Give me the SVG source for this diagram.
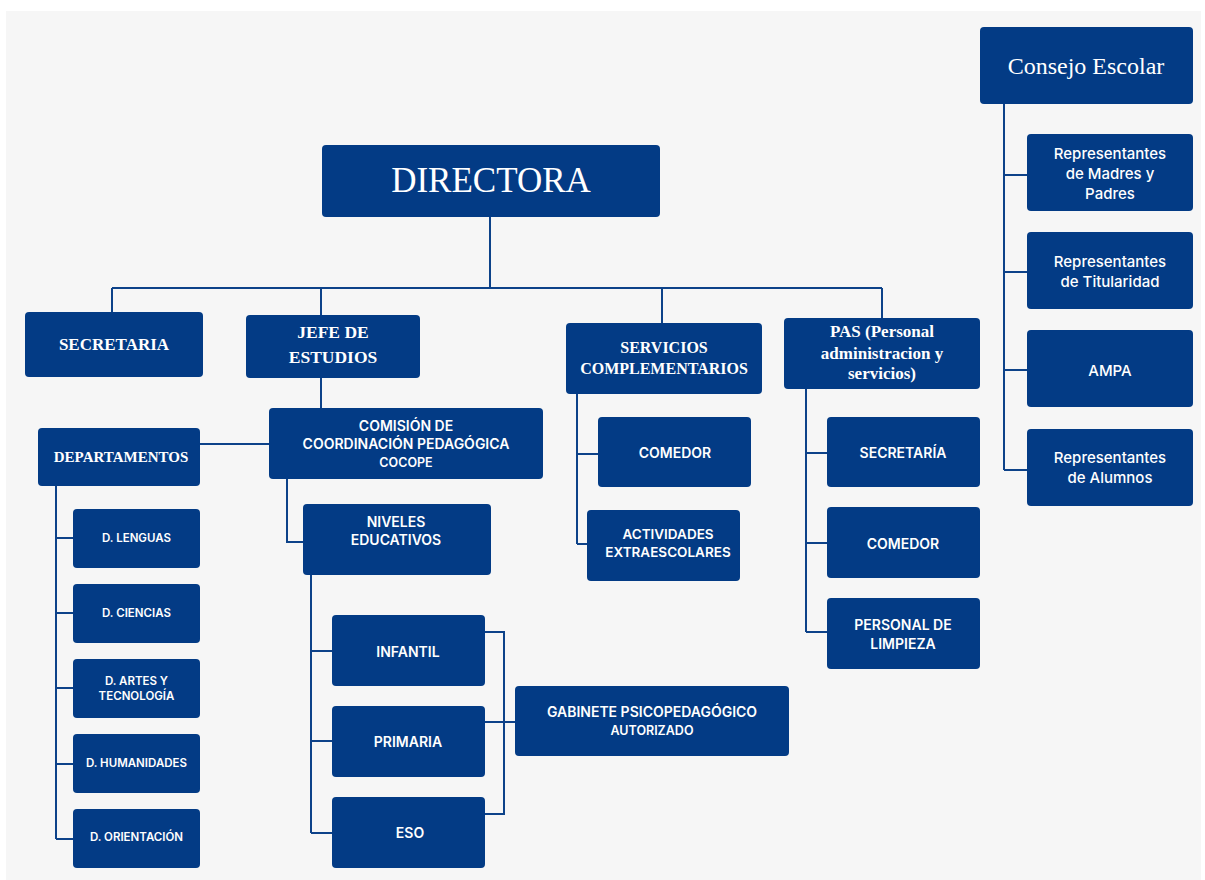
<svg xmlns="http://www.w3.org/2000/svg" width="1205" height="880" viewBox="0 0 1205 880">
<style>
.box{fill:#033b85}
.ln{stroke:#0d4289;stroke-width:2;fill:none}
.serif{font-family:"Liberation Serif","Times New Roman",serif;fill:#ffffff;text-anchor:middle;dominant-baseline:central}
.sb{font-weight:bold}
.sans{font-family:Inter,"Liberation Sans",Arial,sans-serif;fill:#ffffff;text-anchor:middle;dominant-baseline:central;font-weight:600}
.rep{font-weight:500;font-size:15px}
.dep{font-size:11.5px}
</style>
<rect x="0" y="0" width="1205" height="880" fill="#ffffff"/>
<rect x="6" y="11" width="1195" height="869" fill="#f6f6f6"/>

<g id="connectors">
  <path class="ln" d="M490 217 V288 M112 288 H882 M112 288 V312 M321 288 V315 M662 288 V323 M882 288 V318"/>
  <path class="ln" d="M321 378 V408"/>
  <path class="ln" d="M200 444 H269"/>
  <path class="ln" d="M56 486 V839 M56 538 H73 M56 613 H73 M56 688 H73 M56 764 H73 M56 839 H73"/>
  <path class="ln" d="M287 479 V542 H303"/>
  <path class="ln" d="M311 575 V833 M311 651 H332 M311 741 H332 M311 833 H332"/>
  <path class="ln" d="M485 632 H504 V814 H485 M485 722 H515"/>
  <path class="ln" d="M577 394 V544 M577 454 H598 M577 544 H587"/>
  <path class="ln" d="M806 389 V632 M806 453 H827 M806 543 H827 M806 632 H827"/>
  <path class="ln" d="M1004 104 V470 M1004 175 H1027 M1004 272 H1027 M1004 370 H1027 M1004 470 H1027"/>
</g>

<g id="directora"><rect class="box" x="322" y="145" width="338" height="72" rx="4"/><text class="serif" x="491" y="180" font-size="35">DIRECTORA</text></g>
<g id="consejo"><rect class="box" x="980" y="27" width="213" height="77" rx="4"/><text class="serif" x="1086" y="66" font-size="24">Consejo Escolar</text></g>
<g id="rep-madres"><rect class="box" x="1027" y="134" width="166" height="77" rx="4"/><text class="sans rep" x="1110" y="153">Representantes</text><text class="sans rep" x="1110" y="173">de Madres y</text><text class="sans rep" x="1110" y="193">Padres</text></g>
<g id="rep-titularidad"><rect class="box" x="1027" y="232" width="166" height="77" rx="4"/><text class="sans rep" x="1110" y="261">Representantes</text><text class="sans rep" x="1110" y="281">de Titularidad</text></g>
<g id="ampa"><rect class="box" x="1027" y="330" width="166" height="77" rx="4"/><text class="sans rep" x="1110" y="370">AMPA</text></g>
<g id="rep-alumnos"><rect class="box" x="1027" y="429" width="166" height="77" rx="4"/><text class="sans rep" x="1110" y="457">Representantes</text><text class="sans rep" x="1110" y="477">de Alumnos</text></g>

<g id="secretaria"><rect class="box" x="25" y="312" width="178" height="65" rx="4"/><text class="serif sb" x="114" y="344" font-size="17">SECRETARIA</text></g>
<g id="jefe"><rect class="box" x="246" y="315" width="174" height="63" rx="4"/><text class="serif sb" x="333" y="332" font-size="17.5">JEFE DE</text><text class="serif sb" x="333" y="357" font-size="17.5">ESTUDIOS</text></g>
<g id="servicios"><rect class="box" x="566" y="323" width="196" height="71" rx="4"/><text class="serif sb" x="664" y="347" font-size="16">SERVICIOS</text><text class="serif sb" x="664" y="368" font-size="16">COMPLEMENTARIOS</text></g>
<g id="pas"><rect class="box" x="784" y="318" width="196" height="71" rx="4"/><text class="serif sb" x="882" y="331" font-size="17">PAS (Personal</text><text class="serif sb" x="882" y="353" font-size="17">administracion y</text><text class="serif sb" x="882" y="373" font-size="17">servicios)</text></g>

<g id="cocope"><rect class="box" x="269" y="408" width="274" height="71" rx="4"/><text class="sans" x="406" y="425" font-size="14">COMISIÓN DE</text><text class="sans" x="406" y="443" font-size="14">COORDINACIÓN PEDAGÓGICA</text><text class="sans" x="406" y="462" font-size="12.5">COCOPE</text></g>
<g id="departamentos"><rect class="box" x="38" y="428" width="162" height="58" rx="4"/><text class="serif sb" x="121" y="457" font-size="15">DEPARTAMENTOS</text></g>
<g id="d-lenguas"><rect class="box" x="73" y="509" width="127" height="59" rx="4"/><text class="sans dep" x="136.5" y="538">D. LENGUAS</text></g>
<g id="d-ciencias"><rect class="box" x="73" y="584" width="127" height="59" rx="4"/><text class="sans dep" x="136.5" y="613">D. CIENCIAS</text></g>
<g id="d-artes"><rect class="box" x="73" y="659" width="127" height="59" rx="4"/><text class="sans dep" x="136.5" y="681">D. ARTES Y</text><text class="sans dep" x="136.5" y="696">TECNOLOGÍA</text></g>
<g id="d-humanidades"><rect class="box" x="73" y="734" width="127" height="59" rx="4"/><text class="sans dep" x="136.5" y="763">D. HUMANIDADES</text></g>
<g id="d-orientacion"><rect class="box" x="73" y="809" width="127" height="59" rx="4"/><text class="sans dep" x="136.5" y="837">D. ORIENTACIÓN</text></g>

<g id="niveles"><rect class="box" x="303" y="504" width="188" height="71" rx="4"/><text class="sans" x="396" y="521" font-size="14">NIVELES</text><text class="sans" x="396" y="539" font-size="14">EDUCATIVOS</text></g>
<g id="infantil"><rect class="box" x="332" y="615" width="153" height="71" rx="4"/><text class="sans" x="408" y="651" font-size="14">INFANTIL</text></g>
<g id="primaria"><rect class="box" x="332" y="706" width="153" height="71" rx="4"/><text class="sans" x="408" y="741" font-size="14">PRIMARIA</text></g>
<g id="eso"><rect class="box" x="332" y="797" width="153" height="71" rx="4"/><text class="sans" x="410" y="832" font-size="14">ESO</text></g>
<g id="gabinete"><rect class="box" x="515" y="686" width="274" height="70" rx="4"/><text class="sans" x="652" y="711" font-size="14">GABINETE PSICOPEDAGÓGICO</text><text class="sans" x="652" y="730" font-size="12.5">AUTORIZADO</text></g>

<g id="comedor-serv"><rect class="box" x="598" y="417" width="153" height="70" rx="4"/><text class="sans" x="675" y="452" font-size="14">COMEDOR</text></g>
<g id="actividades"><rect class="box" x="587" y="510" width="153" height="71" rx="4"/><text class="sans" x="668" y="534" font-size="13.5">ACTIVIDADES</text><text class="sans" x="668" y="552" font-size="13.5">EXTRAESCOLARES</text></g>

<g id="secretaria-pas"><rect class="box" x="827" y="417" width="153" height="70" rx="4"/><text class="sans" x="903" y="452" font-size="14">SECRETARÍA</text></g>
<g id="comedor-pas"><rect class="box" x="827" y="507" width="153" height="71" rx="4"/><text class="sans" x="903" y="543" font-size="14">COMEDOR</text></g>
<g id="limpieza"><rect class="box" x="827" y="598" width="153" height="71" rx="4"/><text class="sans" x="903" y="624" font-size="14">PERSONAL DE</text><text class="sans" x="903" y="643" font-size="14">LIMPIEZA</text></g>
</svg>
